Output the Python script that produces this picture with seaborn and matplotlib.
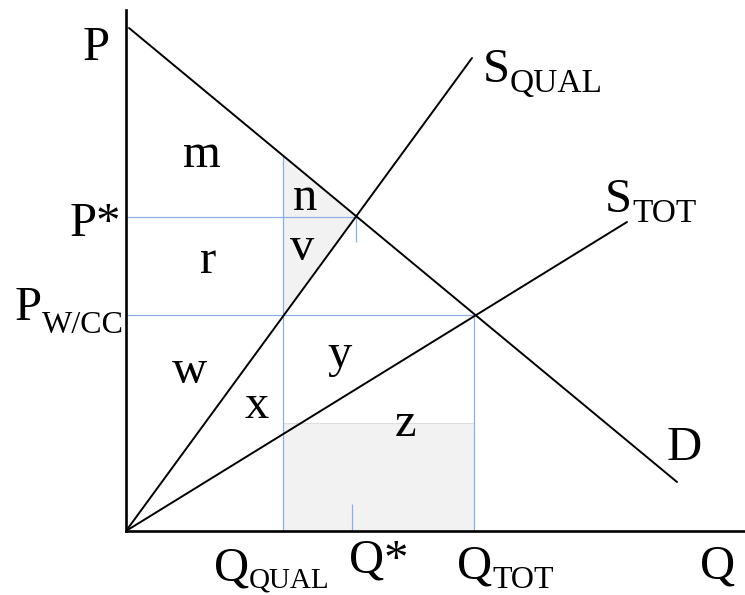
import numpy as np
import matplotlib
matplotlib.use("Agg")
import matplotlib.pyplot as plt
import seaborn as sns

# Curve end points (quantity, price)
demand_q = [3, 551]
demand_p = [503, 49]
s_qual_q = [0, 346]
s_qual_p = [0, 473]
s_tot_q = [0, 501]
s_tot_p = [0, 309]

# Key quantities and prices
q_qual = 157
q_star = 230
q_tot = 348
p_star = 314
p_wcc = 216
z_top = 108

# Area labels: (letter, x, baseline)
area_labels = [("m", 76, 364), ("n", 179, 321), ("r", 82, 258), ("v", 176, 271),
               ("w", 64, 148), ("x", 131, 113), ("y", 214, 164), ("z", 280, 95)]

sns.set_theme(style="white")
plt.rcParams["font.family"] = ["Liberation Serif", "DejaVu Serif"]
plt.rcParams["text.color"] = "black"

fig = plt.figure(figsize=(7.45, 5.95), dpi=100)
ax = fig.add_axes([126 / 745, 64 / 595, 619 / 745, 521 / 595])
ax.set_xlim(0, 619)
ax.set_ylim(0, 521)

blue = "#8eaee6"
fs = 35

# shaded areas
d_at_qq = np.interp(q_qual, demand_q, demand_p)
s_at_qq = np.interp(q_qual, s_qual_q, s_qual_p)
ax.fill([q_qual, q_star, q_qual], [d_at_qq, p_star, s_at_qq], color="#f2f2f2", lw=0, zorder=1)
ax.fill([q_qual, q_tot, q_tot, q_qual], [0, 0, z_top, z_top], color="#f2f2f2", lw=0, zorder=1)
ax.hlines(z_top, q_qual, q_tot, color="#dddddd", lw=0.8, zorder=2)

# guide lines
ax.hlines(p_star, 0, q_star, color=blue, lw=0.9, zorder=2)
ax.hlines(p_wcc, 0, q_tot, color=blue, lw=0.9, zorder=2)
ax.vlines(q_qual, 0, d_at_qq, color=blue, lw=0.9, zorder=2)
ax.vlines(q_tot, 0, p_wcc, color=blue, lw=0.9, zorder=2)
ax.vlines(q_star, p_star - 25, p_star, color=blue, lw=0.9, zorder=2)
ax.vlines(q_star - 4, 0, 27, color=blue, lw=0.9, zorder=2)

# curves
sns.lineplot(x=demand_q, y=demand_p, ax=ax, color="black", lw=1.4, zorder=3)
sns.lineplot(x=s_qual_q, y=s_qual_p, ax=ax, color="black", lw=1.4, zorder=3)
sns.lineplot(x=s_tot_q, y=s_tot_p, ax=ax, color="black", lw=1.4, zorder=3)

for txt, x, y in area_labels:
    ax.text(x, y, txt, fontsize=fs, ha="center", va="baseline")


def sub_label(x, y, main, sub, drop, subsize):
    t = ax.text(x, y, main, fontsize=fs, ha="left", va="baseline")
    ax.annotate(sub, xy=(1, y - drop), xycoords=(t, "data"),
                fontsize=subsize, ha="left", va="baseline")


# axis labels
ax.text(-43, 471, "P", fontsize=fs, va="baseline")
ax.text(-56, 295, "P*", fontsize=fs, va="baseline")
sub_label(-111, 211, "P", "W/CC", 13, 23)
sub_label(88, -49, "Q", "QUAL", 8, 21)
ax.text(223, -41, "Q*", fontsize=fs, va="baseline")
sub_label(331, -48, "Q", "TOT", 9, 23)
ax.text(574, -48, "Q", fontsize=fs, va="baseline")
sub_label(357, 449, "S", "QUAL", 10, 24)
sub_label(479, 319, "S", "TOT", 10, 24)
ax.text(541, 71, "D", fontsize=fs, va="baseline")

for side in ["top", "right"]:
    ax.spines[side].set_visible(False)
for side in ["left", "bottom"]:
    ax.spines[side].set_color("black")
    ax.spines[side].set_linewidth(1.9)
ax.set_xticks([])
ax.set_yticks([])
ax.set_xlabel("")
ax.set_ylabel("")
ax.patch.set_alpha(0)

fig.savefig("out.png", dpi=100)
